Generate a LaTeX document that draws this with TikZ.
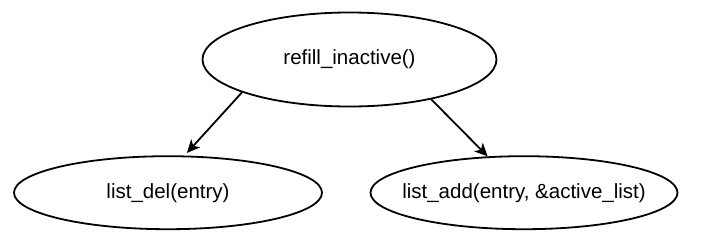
\documentclass[tikz,border=0pt]{standalone}
\usepackage{fontspec}
\setmainfont{Liberation Sans}
\usetikzlibrary{
    shapes.geometric,
    arrows.meta
}
\tikzset{
    >={Stealth[length=13pt,width=12pt,inset=3.5pt]},
    call/.style={
        ellipse,
        draw,
        line width=1.8pt,
        inner sep=0pt,
        font=\fontsize{20.5}{24}\selectfont
    }
}
\newcommand{\callname}[1]{\makebox[0pt]{#1}}

\begin{document}
\begin{tikzpicture}[
    x=1pt,
    y=-1pt,
    line width=1.8pt
]

    \useasboundingbox (0,0) rectangle (708,247);

    % Nodos
    \node[call, minimum width=294pt, minimum height=94pt]
        (refill) at (349.5,59.5)  {\callname{refill\_inactive()}};
    \node[call, minimum width=308pt, minimum height=73pt]
        (del)    at (168,192.7)   {\callname{list\_del(entry)}};
    \node[call, minimum width=307pt, minimum height=73pt]
        (add)    at (524,192.7)   {\callname{list\_add(entry, \&active\_list)}};

    % Llamadas
    \path[->]

        (refill.197.6)
            edge[shorten >=3.5pt] (del.66.3)

        (refill.334.5)
            edge (add.135.5);

\end{tikzpicture}
\end{document}
